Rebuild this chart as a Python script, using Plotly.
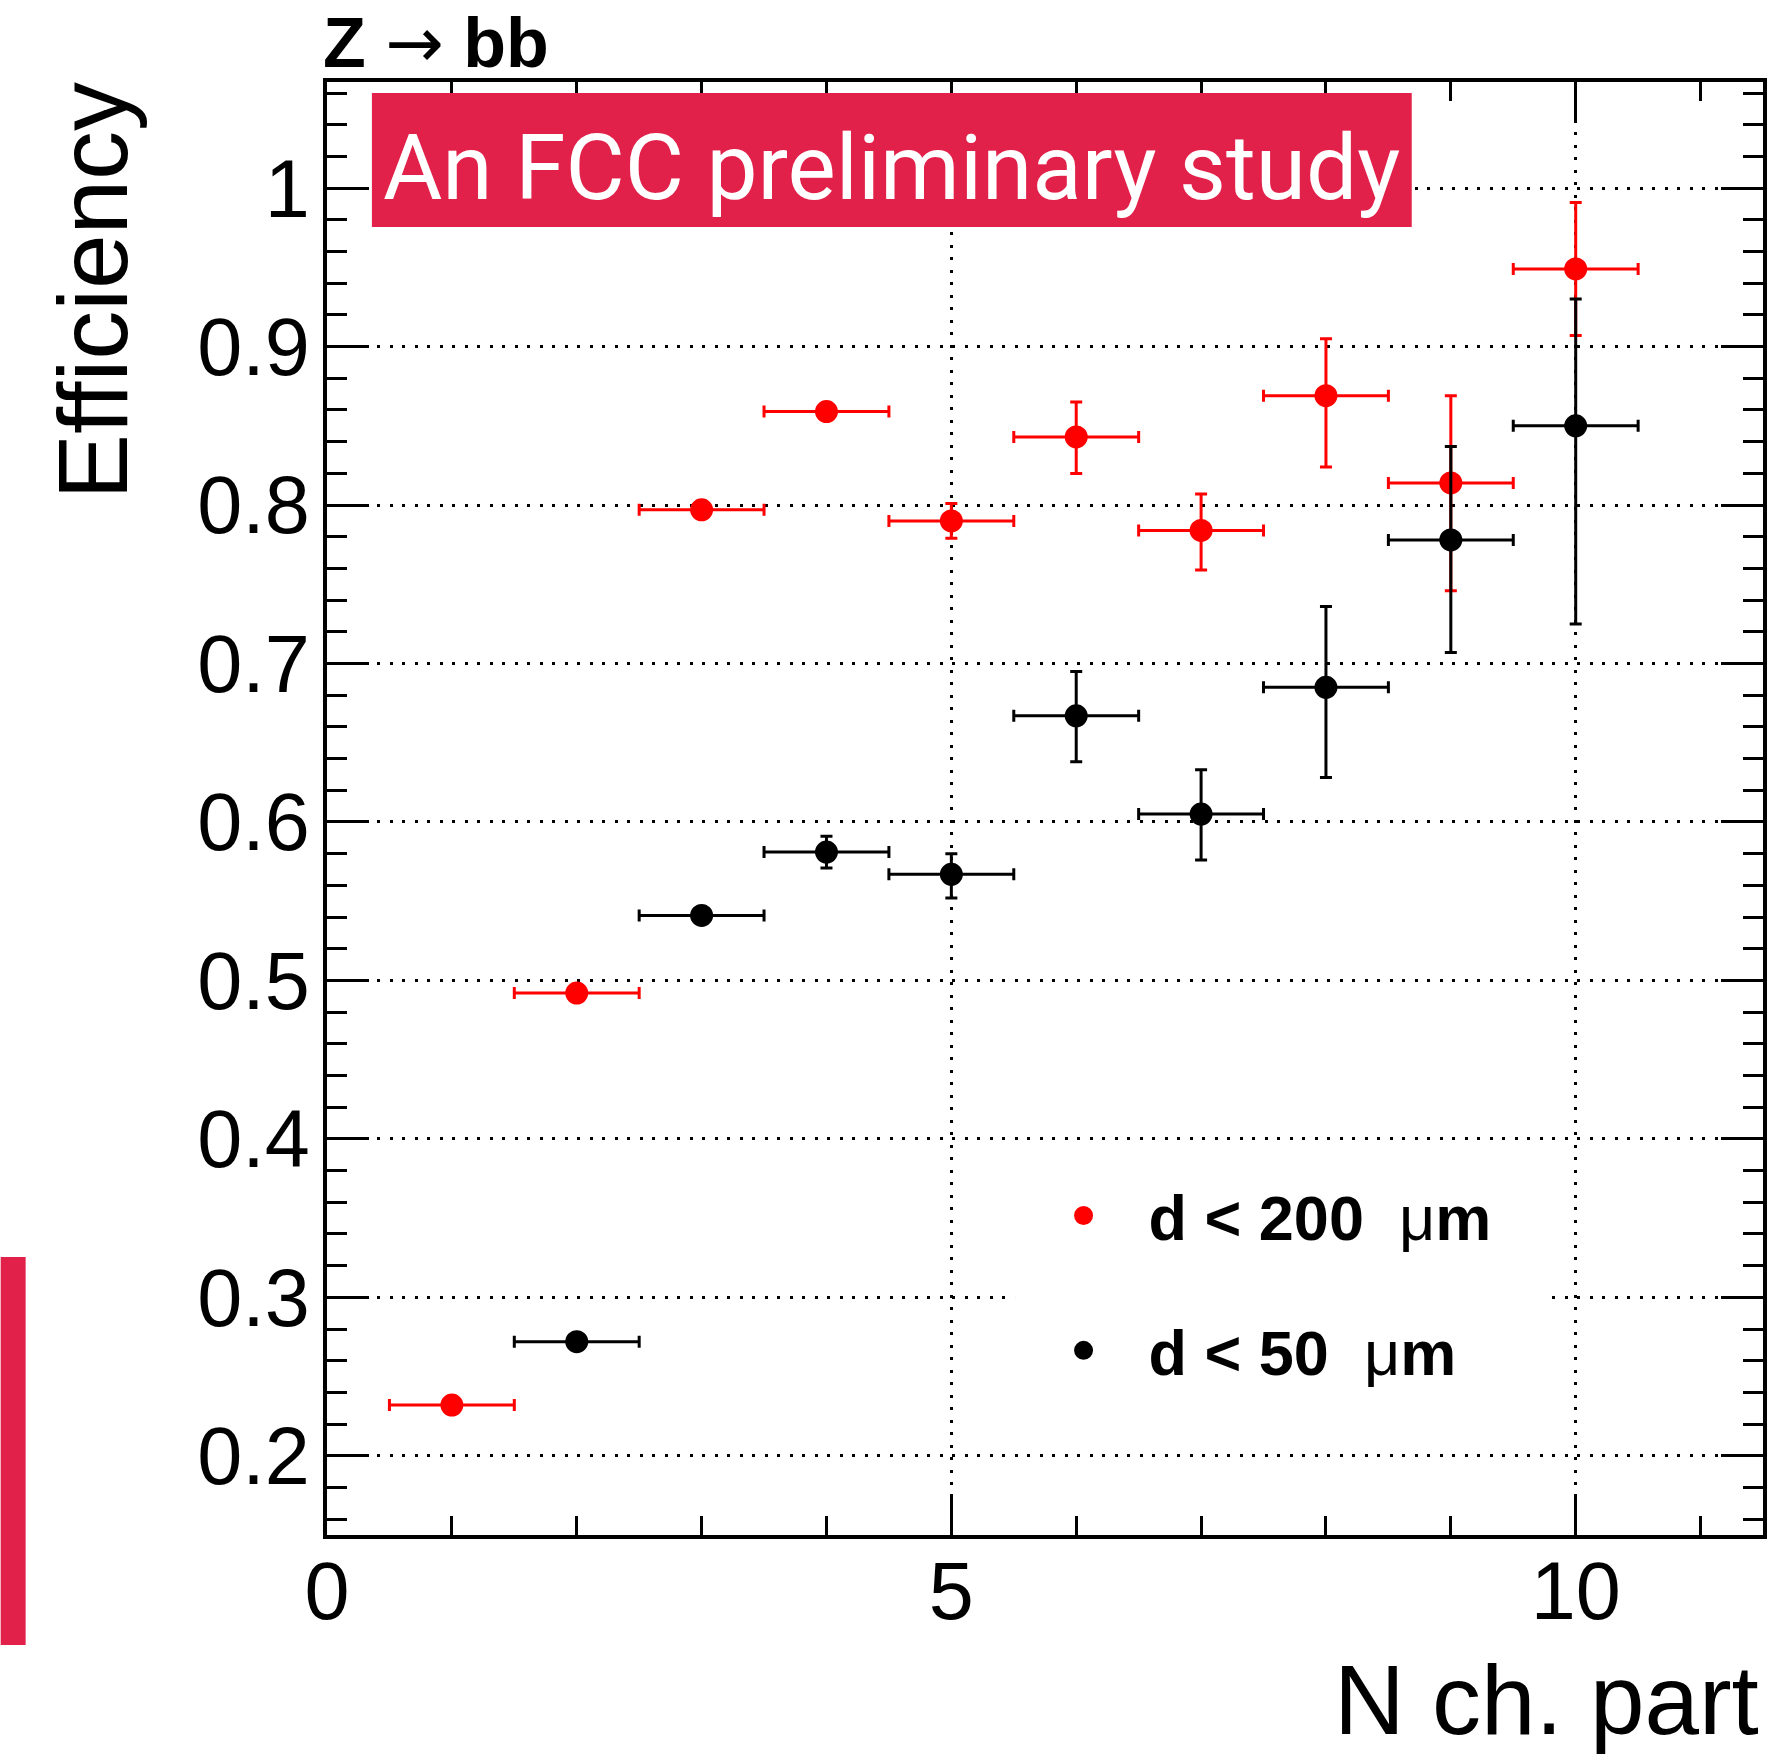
import plotly.graph_objects as go

# Efficiency vs number of charged particles, Z -> bb
n_red = [1, 2, 3, 4, 5, 6, 7, 8, 9, 10]
eff_red = [0.232, 0.492, 0.797, 0.859, 0.790, 0.843, 0.784, 0.869, 0.814, 0.949]
err_red_up = [0.002, 0.003, 0.003, 0.003, 0.011, 0.022, 0.023, 0.036, 0.055, 0.042]
err_red_dn = [0.002, 0.003, 0.003, 0.003, 0.011, 0.023, 0.025, 0.045, 0.068, 0.042]

n_blk = [2, 3, 4, 5, 6, 7, 8, 9, 10]
eff_blk = [0.272, 0.541, 0.581, 0.567, 0.667, 0.605, 0.685, 0.778, 0.850]
err_blk_up = [0.003, 0.004, 0.010, 0.013, 0.028, 0.028, 0.051, 0.059, 0.080]
err_blk_dn = [0.003, 0.004, 0.010, 0.015, 0.029, 0.029, 0.057, 0.071, 0.125]

bin_half_width = 0.5

x_tickvals = [0, 5, 10]
x_ticktext = ["0", "5", "10"]
y_tickvals = [0.2, 0.3, 0.4, 0.5, 0.6, 0.7, 0.8, 0.9, 1.0]
y_ticktext = ["0.2", "0.3", "0.4", "0.5", "0.6", "0.7", "0.8", "0.9", "1"]

W, H = 1779, 1754
ML, MR, MT, MB = 327, 13, 82, 219
PW, PH = W - ML - MR, H - MT - MB


def px_x(p):
    return (p - ML) / PW


def px_y(p):
    return (H - MB - p) / PH


FONT = "Liberation Sans, Arial, Helvetica, sans-serif"
RED = "#ff0000"
BANNER = "#e1214a"


def series(x, y, up, dn, color, name, group):
    return go.Scatter(
        x=x, y=y, mode="markers", name=name,
        legendgroup=group,
        marker=dict(color=color, size=20, symbol="circle",
                    line=dict(color=color, width=3)),
        error_y=dict(type="data", array=up, arrayminus=dn, symmetric=False,
                     color=color, thickness=3, width=6),
        error_x=dict(type="constant", value=bin_half_width,
                     color=color, thickness=3, width=6),
    )


fig = go.Figure()
fig.add_trace(series(n_red, eff_red, err_red_up, err_red_dn, RED,
                     "<b>d &lt; 200</b>  μ<b>m</b>", "a"))
fig.add_trace(series(n_blk, eff_blk, err_blk_up, err_blk_dn, "black",
                     "<b>d &lt; 50</b>  μ<b>m</b>", "b"))

axis_common = dict(
    showline=True, linecolor="black", linewidth=4, mirror="ticks",
    ticks="inside", tickcolor="black", tickwidth=3,
    showgrid=True, gridcolor="black", gridwidth=3, griddash="3px,9.5px",
    zeroline=False,
    tickfont=dict(family=FONT, size=81, color="black"),
)

fig.update_xaxes(
    range=[0, 11.5], tickvals=x_tickvals, ticktext=x_ticktext, ticklen=41,
    minor=dict(dtick=1, tick0=0, ticklen=19, tickwidth=3, tickcolor="black",
               ticks="inside", showgrid=False),
    ticklabelstandoff=-17,
    **axis_common,
)
fig.update_yaxes(
    range=[0.15, 1.067], tickvals=y_tickvals, ticktext=y_ticktext, ticklen=42,
    minor=dict(dtick=0.02, tick0=0.2, ticklen=20, tickwidth=3, tickcolor="black",
               ticks="inside", showgrid=False),
    ticklabelstandoff=-3,
    **axis_common,
)

shapes = [
    # legend background
    dict(type="rect", xref="x", yref="y", x0=5.51, x1=9.77, y0=0.225, y1=0.399,
         fillcolor="white", line=dict(width=0), layer="between"),
    # banner
    dict(type="rect", xref="paper", yref="paper",
         x0=px_x(372), x1=px_x(1414), y0=px_y(227), y1=px_y(93),
         fillcolor=BANNER, line=dict(width=0), layer="above"),
    dict(type="rect", xref="paper", yref="paper",
         x0=px_x(0), x1=px_x(25), y0=px_y(1645), y1=px_y(1257),
         fillcolor=BANNER, line=dict(width=0), layer="above"),
]

annotations = [
    dict(text="<b>Z</b> <span style='font-family:DejaVu Sans'>→</span> <b>bb</b>",
         xref="paper", yref="paper",
         x=px_x(321), y=px_y(43), xanchor="left", yanchor="middle",
         showarrow=False, font=dict(family=FONT, size=70, color="black")),
    dict(text="Efficiency", xref="paper", yref="paper", textangle=-90,
         x=px_x(93), y=px_y(79), xanchor="center", yanchor="top",
         showarrow=False, font=dict(family=FONT, size=98, color="black")),
    dict(text="N ch. part", xref="paper", yref="paper",
         x=px_x(1764), y=px_y(1700), xanchor="right", yanchor="middle",
         showarrow=False, font=dict(family=FONT, size=98, color="black")),
    dict(text="An FCC preliminary study", xref="paper", yref="paper",
         x=px_x(893), y=px_y(168), xanchor="center", yanchor="middle",
         showarrow=False, font=dict(family="Roboto, sans-serif", size=91, color="white")),
]

fig.update_layout(
    width=W, height=H,
    margin=dict(l=ML, r=MR, t=MT, b=MB, pad=0),
    paper_bgcolor="white", plot_bgcolor="white",
    shapes=shapes, annotations=annotations,
    showlegend=True,
    legend=dict(
        x=px_x(1020), y=px_y(1168), xanchor="left", yanchor="top",
        bgcolor="rgba(0,0,0,0)", borderwidth=0,
        font=dict(family=FONT, size=63, color="black"),
        itemwidth=120, tracegroupgap=50, itemsizing="trace",
    ),
)

fig.write_html("out.html")
